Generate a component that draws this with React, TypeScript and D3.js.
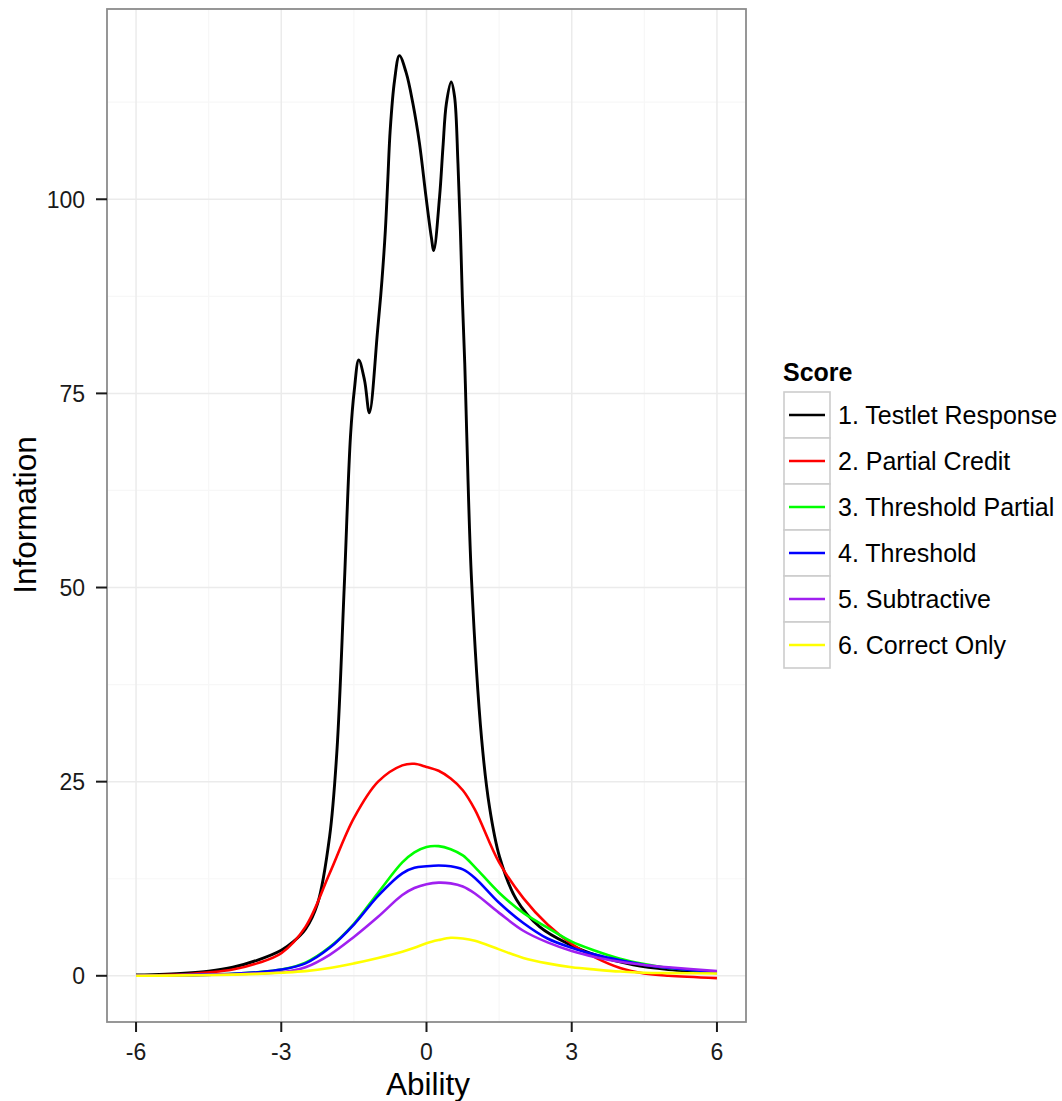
import React from "react";
import * as d3 from "d3";

const width = 1062;
const height = 1101;
const panel = { left: 107, right: 746, top: 9, bottom: 1022 };

// testlet response needs a denser grid to keep its peaks
const blackAbility = [-6, -5, -4.5, -4, -3.5, -3, -2.75, -2.5, -2.25, -2.0, -1.85, -1.7, -1.57, -1.49, -1.4, -1.28, -1.18, -1.01, -0.92, -0.85, -0.8, -0.75, -0.66, -0.56, -0.42, -0.28, -0.145, -0.01, 0.1, 0.15, 0.27, 0.34, 0.41, 0.51, 0.58, 0.65, 0.7, 0.74, 0.79, 0.83, 0.93, 1.14, 1.3, 1.51, 1.86, 2.34, 2.9, 3.58, 4.27, 5, 6];
const blackInfo = [0.1, 0.35, 0.6, 1.1, 2.0, 3.3, 4.4, 6.0, 9.3, 18, 29, 50, 69.5, 75.5, 79.3, 76.7, 72.5, 83.1, 89.6, 96.0, 102.4, 108.9, 115.3, 118.5, 116.3, 112.3, 107.2, 100.3, 95.1, 93.4, 100.3, 106.7, 112.3, 115.1, 113.2, 104.6, 96, 87.4, 78.9, 70.0, 51, 30.4, 21.8, 15.3, 9.8, 6.3, 4.2, 2.5, 1.4, 0.8, 0.4];

const ability = [-6, -5, -4, -3.5, -3, -2.5, -2, -1.5, -1, -0.5, -0.25, 0, 0.25, 0.5, 0.75, 1, 1.5, 2, 2.5, 3, 3.5, 4, 4.5, 5, 6];
const partialCredit = [0.05, 0.2, 0.8, 1.6, 2.9, 6.3, 13.2, 20.3, 25.0, 27.1, 27.3, 26.9, 26.4, 25.4, 23.9, 21.4, 14.6, 10.0, 6.6, 4.1, 2.3, 1.0, 0.3, 0.0, -0.3];
const thresholdPartial = [0.02, 0.08, 0.25, 0.45, 0.8, 1.7, 3.7, 6.7, 10.7, 14.6, 15.9, 16.6, 16.7, 16.3, 15.5, 14.0, 10.7, 8.1, 6.2, 4.4, 3.2, 2.2, 1.5, 1.0, 0.5];
const threshold = [0.02, 0.08, 0.25, 0.45, 0.8, 1.6, 3.6, 6.6, 10.3, 13.2, 13.9, 14.1, 14.2, 14.1, 13.7, 12.6, 9.4, 6.8, 4.8, 3.6, 2.7, 2.0, 1.4, 1.0, 0.5];
const subtractive = [0.02, 0.08, 0.2, 0.3, 0.45, 1.1, 2.7, 5.0, 7.6, 10.4, 11.3, 11.8, 12.0, 11.9, 11.5, 10.6, 8.1, 5.8, 4.3, 3.2, 2.4, 1.8, 1.4, 1.1, 0.6];
const correctOnly = [0.0, 0.05, 0.15, 0.25, 0.4, 0.6, 1.0, 1.6, 2.3, 3.1, 3.6, 4.2, 4.6, 4.9, 4.8, 4.5, 3.4, 2.3, 1.6, 1.1, 0.8, 0.55, 0.4, 0.35, 0.3];

const seriesNames = ["1. Testlet Response", "2. Partial Credit", "3. Threshold Partial", "4. Threshold", "5. Subtractive", "6. Correct Only"];
const seriesColors = ["#000000", "#ff0000", "#00ff00", "#0000ff", "#a020f0", "#ffff00"];

const xTicks = [-6, -3, 0, 3, 6];
const xMinor = [-4.5, -1.5, 1.5, 4.5];
const yTicks = [0, 25, 50, 75, 100];
const yMinor = [12.5, 37.5, 62.5, 87.5, 112.5];

const font = "'Liberation Sans', Arial, sans-serif";

export default function App() {
  const x = d3.scaleLinear().domain([-6.6, 6.6]).range([panel.left, panel.right]);
  const y = d3.scaleLinear().domain([-5.95, 124.5]).range([panel.bottom, panel.top]);

  const line = d3
    .line<[number, number]>()
    .x(d => x(d[0]))
    .y(d => y(d[1]))
    .curve(d3.curveCatmullRom.alpha(0.5));

  const series = [
    d3.zip(blackAbility, blackInfo),
    d3.zip(ability, partialCredit),
    d3.zip(ability, thresholdPartial),
    d3.zip(ability, threshold),
    d3.zip(ability, subtractive),
    d3.zip(ability, correctOnly),
  ] as [number, number][][];

  const keyX = 784;
  const keyTop = 392;
  const keySize = 46;

  return (
    <div style={{ position: "absolute", left: 0, top: 0 }}>
      <svg width={width} height={height} style={{ display: "block", background: "#fff" }}>
        <rect x={0} y={0} width={width} height={height} fill="#fff" />
        {/* grid */}
        {xMinor.map(v => (
          <line key={"xm" + v} x1={x(v)} x2={x(v)} y1={panel.top} y2={panel.bottom} stroke="#f7f7f7" strokeWidth={1.2} />
        ))}
        {yMinor.map(v => (
          <line key={"ym" + v} x1={panel.left} x2={panel.right} y1={y(v)} y2={y(v)} stroke="#f7f7f7" strokeWidth={1.2} />
        ))}
        {xTicks.map(v => (
          <line key={"xg" + v} x1={x(v)} x2={x(v)} y1={panel.top} y2={panel.bottom} stroke="#ebebeb" strokeWidth={1.5} />
        ))}
        {yTicks.map(v => (
          <line key={"yg" + v} x1={panel.left} x2={panel.right} y1={y(v)} y2={y(v)} stroke="#ebebeb" strokeWidth={1.5} />
        ))}

        {/* curves */}
        {series.map((s, i) => (
          <path key={i} d={line(s) ?? ""} fill="none" stroke={seriesColors[i]} strokeWidth={i === 0 ? 2.9 : 2.6} strokeLinejoin="round" />
        ))}

        <rect
          x={panel.left}
          y={panel.top}
          width={panel.right - panel.left}
          height={panel.bottom - panel.top}
          fill="none"
          stroke="#8c8c8c"
          strokeWidth={1.8}
        />

        {/* x axis */}
        {xTicks.map(v => (
          <g key={"xt" + v} transform={`translate(${x(v)},${panel.bottom})`}>
            <line y1={0} y2={10} stroke="#1a1a1a" strokeWidth={2} />
            <text y={38} textAnchor="middle" fontFamily={font} fontSize={23} fill="#1a1a1a">
              {v}
            </text>
          </g>
        ))}
        <text x={428} y={1095} textAnchor="middle" fontFamily={font} fontSize={31.5} fill="#000">
          Ability
        </text>

        {/* y axis */}
        {yTicks.map(v => (
          <g key={"yt" + v} transform={`translate(${panel.left},${y(v)})`}>
            <line x1={-11} x2={0} stroke="#1a1a1a" strokeWidth={2} />
            <text x={-22} dy="0.36em" textAnchor="end" fontFamily={font} fontSize={23} fill="#1a1a1a">
              {v}
            </text>
          </g>
        ))}
        <text
          transform={`translate(36,515) rotate(-90)`}
          textAnchor="middle"
          fontFamily={font}
          fontSize={31.5}
          fill="#000"
        >
          Information
        </text>

        {/* legend */}
        <text x={783} y={381} fontFamily={font} fontSize={25} fontWeight="bold" fill="#000">
          Score
        </text>
        {seriesNames.map((name, i) => {
          const top = keyTop + i * keySize;
          const cy = top + keySize / 2;
          return (
            <g key={name}>
              <rect x={keyX} y={top} width={keySize} height={keySize} fill="#fff" stroke="#cccccc" strokeWidth={1.6} />
              <line x1={keyX + 5} x2={keyX + keySize - 5} y1={cy} y2={cy} stroke={seriesColors[i]} strokeWidth={2.3} />
              <text x={838} y={cy} dy="0.36em" fontFamily={font} fontSize={25} fill="#000">
                {name}
              </text>
            </g>
          );
        })}
      </svg>
    </div>
  );
}
